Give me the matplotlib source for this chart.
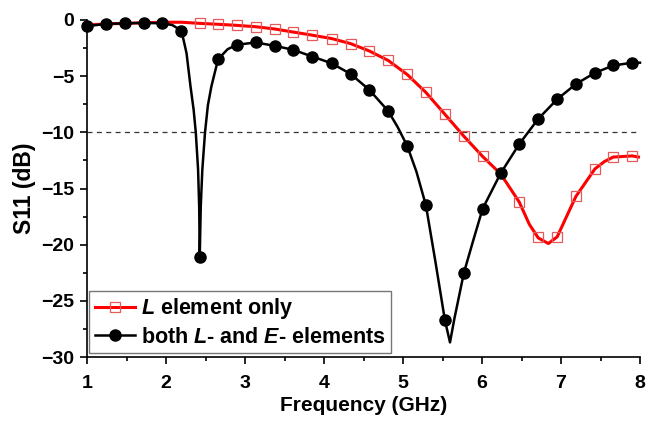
import matplotlib
matplotlib.use("Agg")
import matplotlib.pyplot as plt
from matplotlib.ticker import MultipleLocator

plt.rcParams['font.family'] = ['Liberation Sans', 'DejaVu Sans']
plt.rcParams['mathtext.fontset'] = 'custom'
plt.rcParams['mathtext.it'] = 'Liberation Sans:bold:italic'
plt.rcParams['mathtext.rm'] = 'Liberation Sans:bold'

# ---- data ----
# black curve (both L- and E- elements): line
black_line_freq = [1.00, 1.237, 1.477, 1.718, 1.955, 2.08, 2.196, 2.26, 2.31, 2.35, 2.377,
                   2.406, 2.420, 2.427, 2.440, 2.460, 2.494, 2.53, 2.575, 2.659, 2.78, 2.90,
                   3.137, 3.377, 3.609, 3.850, 4.095, 4.336, 4.571, 4.812, 4.93, 5.053, 5.17,
                   5.290, 5.41, 5.531, 5.595, 5.65, 5.771, 5.89, 6.008, 6.236, 6.471, 6.712,
                   6.952, 7.189, 7.430, 7.662, 7.902, 8.0]
black_line_s11 = [-0.55, -0.35, -0.3, -0.25, -0.3, -0.45, -0.95, -2.96, -5.9, -8.0, -10.0,
                  -13.3, -16.6, -21.1, -16.6, -13.3, -10.0, -7.6, -5.9, -3.5, -2.6, -2.2,
                  -2.0, -2.3, -2.65, -3.25, -3.85, -4.8, -6.2, -8.1, -9.5, -11.2, -13.5,
                  -16.5, -21.5, -26.75, -28.7, -26.6, -22.5, -19.6, -16.8, -13.65, -11.05, -8.8,
                  -7.05, -5.7, -4.7, -4.05, -3.8, -3.8]
# black curve: markers
black_marker_freq = [1.000, 1.237, 1.477, 1.718, 1.955, 2.196, 2.427, 2.659, 2.900, 3.137,
                     3.377, 3.609, 3.850, 4.095, 4.336, 4.571, 4.812, 5.053, 5.290, 5.531,
                     5.771, 6.008, 6.236, 6.471, 6.712, 6.952, 7.189, 7.430, 7.662, 7.902]
black_marker_s11 = [-0.55, -0.35, -0.3, -0.25, -0.3, -0.95, -21.1, -3.5, -2.2, -2.0,
                    -2.3, -2.65, -3.25, -3.85, -4.8, -6.2, -8.1, -11.2, -16.5, -26.75,
                    -22.5, -16.8, -13.65, -11.05, -8.8, -7.05, -5.7, -4.7, -4.05, -3.8]

# red curve (L element only): line
red_line_freq = [1.0, 1.237, 1.477, 1.718, 1.955, 2.196, 2.427, 2.659, 2.900, 3.137, 3.377,
                 3.609, 3.850, 4.095, 4.336, 4.571, 4.812, 5.053, 5.290, 5.531, 5.771,
                 6.008, 6.236, 6.471, 6.60, 6.712, 6.84, 6.952, 7.07, 7.189, 7.430, 7.55,
                 7.662, 7.902, 7.98]
red_line_s11 = [-0.45, -0.35, -0.3, -0.25, -0.2, -0.2, -0.3, -0.38, -0.48, -0.6, -0.8,
                -1.07, -1.35, -1.65, -2.1, -2.75, -3.6, -4.85, -6.45, -8.4, -10.35,
                -12.15, -13.7, -16.2, -18.2, -19.4, -19.9, -19.3, -17.5, -15.7, -13.25, -12.6,
                -12.2, -12.1, -12.2]
# red curve: markers (visible ones)
red_marker_freq = [2.427, 2.659, 2.900, 3.137, 3.377, 3.609, 3.850, 4.095, 4.336, 4.571,
                   4.812, 5.053, 5.290, 5.531, 5.771, 6.008, 6.471, 6.712, 6.952, 7.189,
                   7.430, 7.662, 7.902]
red_marker_s11 = [-0.3, -0.38, -0.48, -0.6, -0.8, -1.07, -1.35, -1.65, -2.1, -2.75,
                  -3.6, -4.85, -6.45, -8.4, -10.35, -12.15, -16.2, -19.3, -19.3, -15.7,
                  -13.25, -12.2, -12.1]

threshold_db = -10
x_ticks = [1, 2, 3, 4, 5, 6, 7, 8]
y_ticks = [0, -5, -10, -15, -20, -25, -30]
label_red = r"$L$ element only"
label_black = r"both $L$- and $E$- elements"

# ---- figure ----
fig = plt.figure(figsize=(6.54, 4.26), dpi=100)
ax = fig.add_axes([87/654, 1-357/426, (640-87)/654, (357-20)/426])

ax.axhline(threshold_db, color='#333333', lw=0.9, ls=(0, (4, 3.5)), zorder=1)

red_col = '#ff0000'
ax.plot(red_line_freq, red_line_s11, color=red_col, lw=2.2, zorder=2, clip_on=False)
ax.plot(red_marker_freq, red_marker_s11, ls='none', marker='s', ms=6.5,
        mfc='none', mec='#e55a5a', mew=0.9, zorder=3, clip_on=False)
ax.plot(black_line_freq, black_line_s11, color='black', lw=1.8, zorder=4, clip_on=False)
ax.plot(black_marker_freq, black_marker_s11, ls='none', marker='o', ms=8,
        mfc='black', mec='black', zorder=5, clip_on=False)

# legend proxies
h_red, = ax.plot([], [], color=red_col, lw=2.2, marker='s', ms=6.5, mfc='none',
                 mec='#e55a5a', mew=0.9)
h_black, = ax.plot([], [], color='black', lw=1.8, marker='o', ms=8, mfc='black')
leg = ax.legend([h_red, h_black], [label_red, label_black], loc='lower left',
                bbox_to_anchor=(0.004, 0.012), borderaxespad=0, numpoints=1,
                fancybox=False, framealpha=1, edgecolor='#777777',
                prop={'weight': 'bold', 'size': 15.5}, handlelength=1.9,
                handletextpad=0.25, borderpad=0.25, labelspacing=0.25)
leg.get_frame().set_linewidth(1.0)

ax.set_xlim(1, 8)
ax.set_ylim(-30, 0)
ax.set_xticks(x_ticks)
ax.set_yticks(y_ticks)
ax.xaxis.set_minor_locator(MultipleLocator(0.5))
ax.yaxis.set_minor_locator(MultipleLocator(2.5))
for s in ('top', 'right'):
    ax.spines[s].set_visible(False)
for s in ('left', 'bottom'):
    ax.spines[s].set_linewidth(1.2)
ax.tick_params(which='major', direction='out', length=5, width=1.2,
               labelsize=14, pad=4)
ax.tick_params(which='minor', direction='out', length=3, width=1.2)
ax.tick_params(axis='x', which='major', pad=8)
for lab in ax.get_xticklabels() + ax.get_yticklabels():
    lab.set_fontweight('bold')

ax.set_xlabel('Frequency (GHz)', fontsize=15, fontweight='bold', labelpad=3)
ax.set_ylabel('S11 (dB)', fontsize=16.5, fontweight='bold', labelpad=4)

fig.savefig('out.png', dpi=100)
